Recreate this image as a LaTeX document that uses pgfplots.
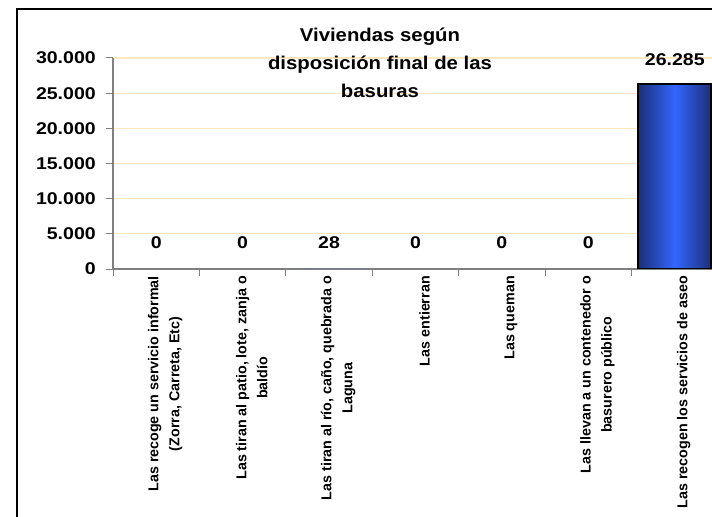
\documentclass[border=0pt]{standalone}
\usepackage{pgfplots}
\pgfplotsset{compat=1.18}
\usepackage{pgfplotstable}
\usepackage{fontspec}
\setmainfont{Liberation Sans}
\newfontfamily\widefont[FakeStretch=1.15]{Liberation Sans}
\newfontfamily\titlefont[FakeStretch=1.1]{Liberation Sans}
\definecolor{gridcream}{RGB}{255,232,190}
\definecolor{axisgray}{RGB}{128,128,128}
\definecolor{bardark}{RGB}{28,48,120}
\definecolor{barlight}{RGB}{51,102,255}

\pgfplotstableread{
x y
0 0
1 0
2 28
3 0
4 0
5 0
}\smallvals
\pgfplotstableread{
x y
6 26285
}\bigval
\pgfplotstableread{
x y label
0 3700 0
1 3700 0
2 3700 28
3 3700 0
4 3700 0
5 3700 0
6 29800 26.285
}\labels

\begin{document}
\begin{tikzpicture}
\useasboundingbox (0,0) rectangle (712bp,517bp);
\begin{axis}[
  at={(113bp,248bp)}, anchor=south west,
  scale only axis, width=605bp, height=211bp,
  xmin=-0.5, xmax=6.5, ymin=0, ymax=30000,
  axis lines*=left,
  axis line style={axisgray, line width=1.2bp},
  every tick/.style={axisgray, line width=1bp},
  tick align=outside,
  major tick length=7bp,
  scaled y ticks=false,
  ytick={0,5000,10000,15000,20000,25000,30000},
  yticklabels={0,5.000,10.000,15.000,20.000,25.000,30.000},
  yticklabel style={font=\widefont\bfseries\fontsize{17bp}{20bp}\selectfont, inner sep=0pt, xshift=-10bp},
  ymajorgrids,
  grid style={gridcream, line width=1.2bp},
  xtick={-0.5,0.5,1.5,2.5,3.5,4.5,5.5,6.5},
  x tick label as interval,
  xticklabels={
    {Las recoge un servicio informal\\(Zorra, Carreta, Etc)},
    {Las tiran al patio, lote, zanja o\\baldío},
    {Las tiran al río, caño, quebrada o\\Laguna},
    {Las entierran},
    {Las queman},
    {Las llevan a un contenedor o\\basurero público},
    {Las recogen los servicios de aseo}},
  xticklabel style={rotate=90, anchor=east, align=center, inner sep=0pt, yshift=-9bp,
    font=\bfseries\fontsize{14.3bp}{21bp}\selectfont},
  clip=true,
]
\addplot[ybar, bar width=73bp, bar shift=0pt, draw=none,
  left color=bardark, right color=bardark, middle color=barlight]
  table[x=x, y=y] {\smallvals};
\addplot[ybar, bar width=73bp, bar shift=0pt, draw=black, line width=2bp,
  left color=bardark, right color=bardark, middle color=barlight]
  table[x=x, y=y] {\bigval};
\addplot[draw=none, mark=none, nodes near coords, point meta=explicit symbolic,
  nodes near coords style={anchor=center, inner sep=0pt, font=\widefont\bfseries\fontsize{17bp}{20bp}\selectfont}]
  table[x=x, y=y, meta=label] {\labels};
\end{axis}
\node[align=center, font=\titlefont\bfseries\fontsize{18.5bp}{28bp}\selectfont] at (380bp,454bp)
  {Viviendas según\\disposición final de las\\basuras};
\draw[black, line width=1.5bp] (17bp,0) -- (17bp,508bp) -- (712bp,508bp);
\end{tikzpicture}
\end{document}
